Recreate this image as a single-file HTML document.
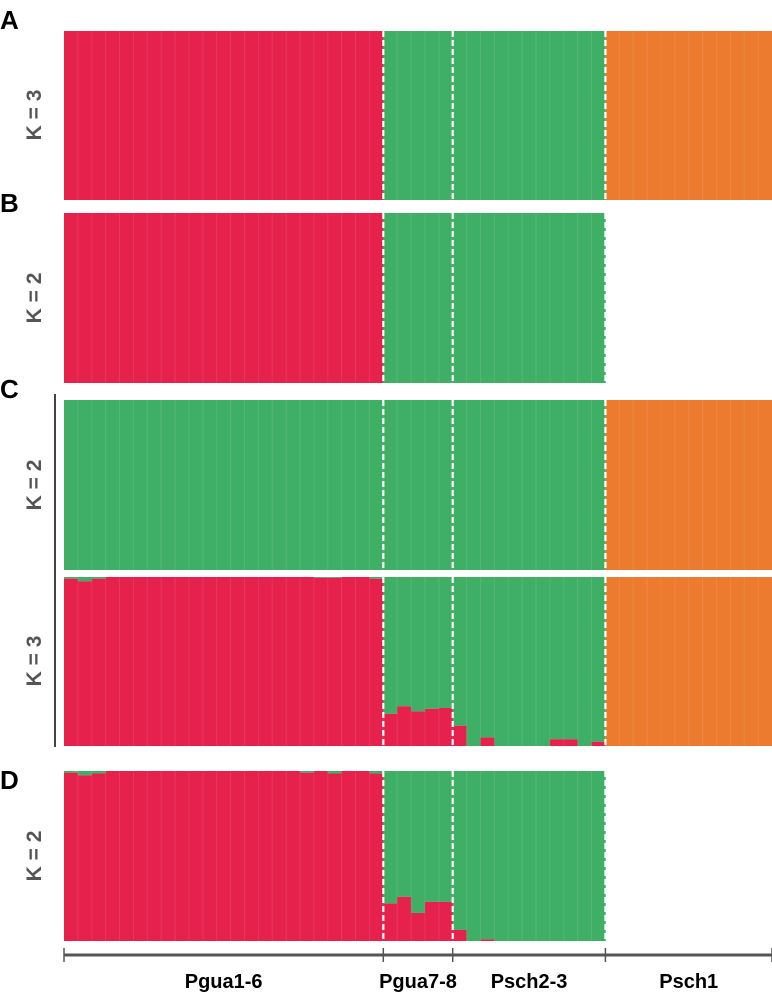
<!DOCTYPE html>
<html><head><meta charset="utf-8">
<style>
body{margin:0;background:#fff;}
svg{display:block;font-family:"Liberation Sans",Arial,sans-serif;}
</style></head>
<body>
<svg id="chart" width="772" height="998" viewBox="0 0 772 998">
</svg>
<script>
// groups of individuals
const groupNames = ["Pgua1-6","Pgua7-8","Psch2-3","Psch1"];
const groupSizes = [23,5,11,12];
// red fraction per individual (panels with red/green)
const cBottomRed = [0.99,0.975,0.99,1,1,1,1,1,1,1,1,1,1,1,1,1,1,1,0.995,0.995,1,1,0.99,
  0.19,0.235,0.205,0.22,0.225,
  0.12,0,0.05,0,0,0,0,0.04,0.04,0,0.025];
const dRed = [0.99,0.975,0.985,1,1,1,1,1,1,1,1,1,1,1,1,1,1,0.99,1,0.985,1,1,0.985,
  0.22,0.26,0.165,0.23,0.23,
  0.065,0,0.01,0,0,0,0,0,0,0,0];
const panels = [
  {name:"panel-a", y0:31, y1:200, mode:"pure3"},
  {name:"panel-b", y0:213, y1:383, mode:"pure2"},
  {name:"panel-c-k2", y0:400, y1:570, mode:"cTop"},
  {name:"panel-c-k3", y0:577, y1:746, mode:"mix3", red:cBottomRed},
  {name:"panel-d", y0:771, y1:941, mode:"mix2", red:dRed}
];
const RED="#E5214C", GREEN="#40AF66", ORANGE="#EC7A2F";
const svg=document.getElementById('chart');
const NS="http://www.w3.org/2000/svg";
const X0=64, X1=772;
const total=groupSizes.reduce((a,b)=>a+b,0);
const bw=(X1-X0)/total;
function xOf(i){return X0+i*bw;}
function mk(tag,attrs){const e=document.createElementNS(NS,tag);for(const k in attrs)e.setAttribute(k,attrs[k]);svg.appendChild(e);return e;}
function groupOf(i){let s=0;for(let g=0;g<groupSizes.length;g++){s+=groupSizes[g];if(i<s)return g;}return 3;}
const boundaries=[];{let s=0;for(let g=0;g<groupSizes.length-1;g++){s+=groupSizes[g];boundaries.push(s);}}

panels.forEach(p=>{
  const h=p.y1-p.y0;
  const n = (p.mode==="pure2"||p.mode==="mix2") ? total-groupSizes[3] : total;
  for(let i=0;i<n;i++){
    const g=groupOf(i);
    const x=xOf(i);
    let segs=[];
    if(g===3){segs=[[ORANGE,1]];}
    else if(p.mode==="pure3"||p.mode==="pure2"){segs=[[g===0?RED:GREEN,1]];}
    else if(p.mode==="cTop"){segs=[[GREEN,1]];}
    else {const r=p.red[i];segs=[[GREEN,1-r],[RED,r]];}
    let y=p.y0;
    segs.forEach(([c,f])=>{
      if(f<=0)return;
      const r=mk('rect',{x:x,y:y,width:bw+0.3,height:f*h,fill:c});
      
      
      y+=f*h;
    });
    if(i>0){
      const l=mk('line',{x1:x,x2:x,y1:p.y0,y2:p.y1,stroke:"rgba(255,255,255,0.1)","stroke-width":1});
      
      
    }
  }
  boundaries.forEach((b,k)=>{
    const l=mk('line',{x1:xOf(b),x2:xOf(b),y1:p.y0,y2:p.y1,stroke:"#fff","stroke-width":2.2,"stroke-dasharray":"6,3"});
    
    
  });
});

// panel letters
[["A",29],["B",212],["C",398],["D",789]].forEach(([t,y])=>{
  const e=mk('text',{x:0,y:y,"font-size":26,"font-weight":"bold",fill:"#000"});
  e.textContent=t;
  
  
});
// K labels
[["K = 3",115],["K = 2",298],["K = 2",485],["K = 3",661],["K = 2",856]].forEach(([t,y],k)=>{
  const e=mk('text',{x:0,y:0,"font-size":21,"font-weight":"bold",fill:"#555","text-anchor":"middle",transform:`translate(41,${y}) rotate(-90)`});
  e.textContent=t;
  
  
});
// C bracket
const br=mk('line',{x1:55,x2:55,y1:394,y2:747,stroke:"#444","stroke-width":2});



// x axis
const ax=mk('line',{x1:X0,x2:X1,y1:955,y2:955,stroke:"#555","stroke-width":3});


[0,...boundaries,total].forEach(b=>{
  const t=mk('line',{x1:xOf(b),x2:xOf(b),y1:948,y2:962,stroke:"#555","stroke-width":1.5});
  
  
});
let s=0;
groupNames.forEach((n,g)=>{
  const cx=(xOf(s)+xOf(s+groupSizes[g]))/2; s+=groupSizes[g];
  const e=mk('text',{x:cx,y:988,"font-size":20,"font-weight":"bold",fill:"#000","text-anchor":"middle"});
  e.textContent=n;
  
  
});
</script>
</body></html>
